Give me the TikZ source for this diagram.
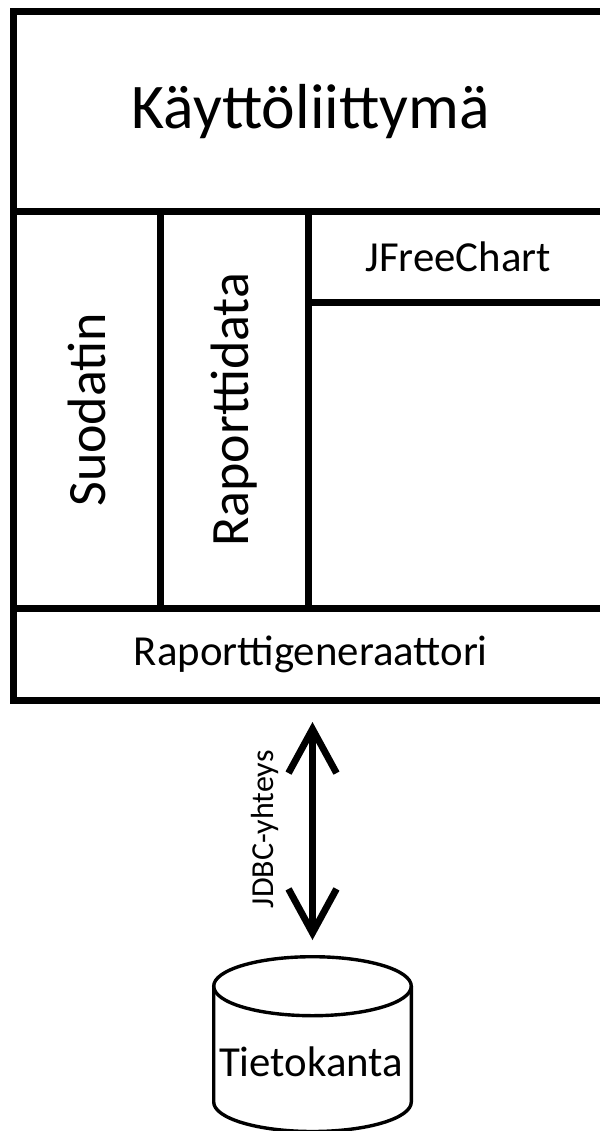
\documentclass[tikz,border=0pt]{standalone}
\usepackage{fontspec}
\setmainfont{Carlito}
\usepackage{tikz}
\usetikzlibrary{calc}
\usetikzlibrary{arrows.meta}

\tikzset{
  block/.style={draw=black, line width=3.5pt, inner sep=0pt, anchor=center},
  bigtext/.style={font=\fontsize{31.8}{36}\selectfont},
  coltext/.style={font=\fontsize{27}{32}\selectfont},
  midtext/.style={font=\fontsize{21.4}{25}\selectfont},
  smalltext/.style={font=\fontsize{16}{19}\selectfont},
  jdbc/.style={line width=3.4pt,
    {Straight Barb[length=22pt,width=24pt]}-{Straight Barb[length=22pt,width=24pt]},
    shorten <=7.5pt, shorten >=9.25pt},
  dbline/.style={draw=black, line width=1.7pt}
}

\begin{document}
\begin{tikzpicture}[x=0.5pt, y=-0.5pt]
% picture is 600 x 1131 px, y grows downwards
\useasboundingbox (0,0) rectangle (600,1131);

%%%%%%%%%%%%%%%%%%%%%%%%%%%%%%%%%%%%%%%%%%%%%%%%%%%%%%%%%%%%%% Application
\node[block, bigtext, minimum width=297.25pt, minimum height=99.75pt] (ui) at (310.75,111.25) {Käyttöliittymä};

% vertical columns, text turned upwards
\node[block, coltext, rotate=90, minimum width=198.75pt, minimum height=73.5pt] (suod) at (87,409.75) {Suodatin};
\node[block, coltext, rotate=90, minimum width=198.75pt, minimum height=74pt] (rdata) at (234.5,409.75) {Raporttidata};

% chart part
\node[block, midtext, minimum width=149.75pt, minimum height=45.5pt] (jfree) at (458.25,256.5) {JFreeChart};
\node[block, minimum width=149.75pt, minimum height=153.25pt] (chart) at (458.25,455.25) {};

\node[block, midtext, minimum width=297.25pt, minimum height=45.75pt] (gen) at (310.75,654.25) {Raporttigeneraattori};

%%%%%%%%%%%%%%%%%%%%%%%%%%%%%%%%%%%%%%%%%%%%%%%%%%%%%%%%%%%%%% Database
\coordinate (dbtop) at (312.5,955);
% cylinder (y axis points down, so the lower arc runs 180 -> 0)
\draw[dbline] (312.5,986.2) ellipse [x radius=98.8, y radius=29.5];
\draw[dbline] (213.7,986.2) -- (213.7,1102)
  arc [start angle=180, end angle=0, x radius=98.8, y radius=29.5] -- (411.3,986.2);
\node[midtext] (db) at (311,1062) {Tietokanta};

\draw[jdbc] (dbtop) -- (gen.south -| dbtop)
  node[midway, sloped, above=15pt, smalltext, inner sep=0pt] {JDBC-yhteys};

\end{tikzpicture}
\end{document}
